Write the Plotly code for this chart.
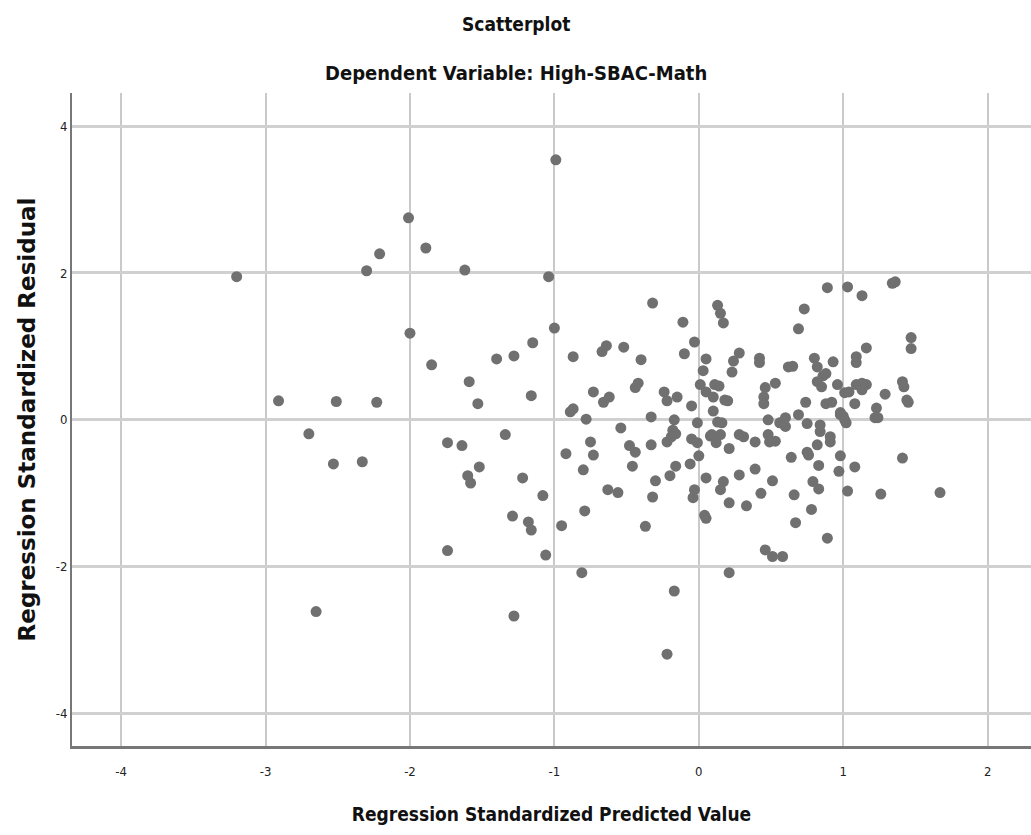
import plotly.graph_objects as go

predicted = [
    -3.20, -2.30, -2.21, -2.91, -2.51, -2.23, -2.70, -2.53, -2.33, -2.65,
    -2.01, -1.89, -1.62, -1.04, -2.00, -1.85, -1.40, -1.28, -1.15, -1.00,
    -1.59, -1.53, -1.16, -1.74, -1.64, -1.34, -1.52, -1.60, -1.58, -1.22,
    -1.08, -1.29, -1.18, -1.16, -0.95, -1.74, -1.06, -1.28, -0.99,
    -0.32, -0.11, -0.03, -0.10, -0.87, -0.67, -0.64, -0.52, -0.40, -0.44,
    -0.42, -0.73, -0.66, -0.62, -0.89, -0.87, -0.78, -0.54, -0.33, -0.24,
    -0.22, -0.15, -0.05, 0.05, 0.03, 0.01, 0.05, 0.11, 0.10, 0.10,
    0.13, 0.15, 0.17, -0.01, 0.08, 0.12, -0.75, -0.73, -0.92, -0.80,
    -0.48, -0.44, -0.46, -0.33, -0.22, -0.17, -0.18, -0.16, -0.19, -0.05,
    -0.01, 0.00, -0.06, -0.16, -0.20, 0.05, -0.30, 0.14, 0.18, 0.20,
    0.13, 0.16, 0.28, 0.24, 0.23, 0.42, 0.42, 0.46, 0.45, 0.45,
    0.53, 0.62, 0.65, 0.69, 0.48, 0.56, 0.60, 0.69, 0.09, 0.15,
    0.21, 0.28, 0.31, 0.39, 0.48, 0.49, 0.53, 0.60, 0.64, 0.66,
    0.67, -0.32, -0.04, -0.03, 0.17, 0.15, 0.28, 0.21, 0.33, 0.39,
    0.43, 0.51, 0.04, 0.05, -0.63, -0.56, -0.79, -0.37, -0.81, -0.17,
    0.21, 0.46, 0.51, 0.58, -0.22, 0.89, 1.03, 1.13, 1.34, 1.36,
    0.73, 1.47, 1.47, 0.80, 0.82, 0.93, 1.16, 1.09, 1.09, 0.86,
    0.88, 0.82, 0.85, 0.96, 1.01, 1.04, 1.09, 1.13, 1.16, 1.13,
    1.41, 1.42, 1.29, 1.45, 1.44, 0.74, 0.88, 0.92, 1.08, 0.98,
    1.00, 1.23, 1.22, 1.24, 0.75, 0.84, 1.02, 0.84, 0.98, 1.01,
    0.91, 0.91, 0.82, 0.75, 0.76, 0.83, 0.98, 0.97, 1.08, 1.41,
    0.79, 0.83, 1.03, 1.26, 1.67, 0.78, 0.89,
]

residual = [
    1.95, 2.03, 2.26, 0.26, 0.25, 0.24, -0.19, -0.60, -0.57, -2.61,
    2.75, 2.34, 2.04, 1.95, 1.18, 0.75, 0.83, 0.87, 1.05, 1.25,
    0.52, 0.22, 0.33, -0.31, -0.35, -0.20, -0.64, -0.76, -0.86, -0.79,
    -1.03, -1.31, -1.39, -1.50, -1.44, -1.78, -1.84, -2.67, 3.54,
    1.59, 1.33, 1.06, 0.90, 0.86, 0.93, 1.01, 0.99, 0.82, 0.44,
    0.50, 0.38, 0.24, 0.31, 0.11, 0.15, 0.01, -0.11, 0.04, 0.38,
    0.26, 0.31, 0.19, 0.83, 0.67, 0.48, 0.38, 0.48, 0.31, 0.12,
    1.56, 1.45, 1.32, -0.04, -0.22, -0.31, -0.30, -0.48, -0.46, -0.68,
    -0.35, -0.44, -0.63, -0.34, -0.30, 0.00, -0.14, -0.19, -0.23, -0.26,
    -0.31, -0.49, -0.60, -0.63, -0.76, -0.79, -0.83, 0.46, 0.27, 0.26,
    -0.03, -0.04, 0.91, 0.80, 0.65, 0.84, 0.78, 0.44, 0.31, 0.22,
    0.50, 0.72, 0.73, 1.24, 0.00, -0.04, 0.03, 0.07, -0.20, -0.20,
    -0.39, -0.20, -0.23, -0.30, -0.20, -0.30, -0.29, -0.09, -0.51, -1.02,
    -1.40, -1.05, -1.06, -0.95, -0.84, -0.95, -0.75, -1.13, -1.17, -0.67,
    -1.00, -0.83, -1.30, -1.34, -0.95, -0.99, -1.24, -1.45, -2.08, -2.33,
    -2.08, -1.77, -1.86, -1.86, -3.19, 1.80, 1.81, 1.69, 1.86, 1.88,
    1.51, 1.12, 0.97, 0.84, 0.72, 0.79, 0.98, 0.86, 0.78, 0.60,
    0.63, 0.52, 0.45, 0.48, 0.37, 0.38, 0.48, 0.50, 0.48, 0.41,
    0.52, 0.45, 0.35, 0.24, 0.27, 0.24, 0.22, 0.24, 0.22, 0.10,
    0.05, 0.16, 0.03, 0.03, -0.05, -0.07, -0.04, -0.16, 0.07, 0.00,
    -0.23, -0.30, -0.34, -0.44, -0.48, -0.62, -0.49, -0.70, -0.64, -0.52,
    -0.84, -0.94, -0.97, -1.01, -0.99, -1.22, -1.61,
]

x_ticks = [-4, -3, -2, -1, 0, 1, 2]
x_tick_labels = ["-4", "-3", "-2", "-1", "0", "1", "2"]
y_ticks = [-4, -2, 0, 2, 4]
y_tick_labels = ["-4", "-2", "0", "2", "4"]

narrow = "Liberation Sans Narrow, DejaVu Sans Condensed, Roboto Condensed, Arial Narrow, DejaVu Sans, sans-serif"

L, R, T, B = 72, 0, 93, 89
W, H = 1031, 835
pw, ph = W - L - R, H - T - B

fig = go.Figure()
fig.add_trace(go.Scatter(
    x=predicted, y=residual, mode="markers",
    marker=dict(size=11, color="#707070", line=dict(width=0)),
    hoverinfo="x+y", showlegend=False,
))

title_x = (W / 2 - L) / pw
fig.update_layout(
    width=W, height=H,
    margin=dict(l=L, r=R, t=T, b=B),
    paper_bgcolor="white", plot_bgcolor="white",
    font=dict(family=narrow, color="#222222"),
    annotations=[
        dict(text="<b>Scatterplot</b>", x=title_x, y=1 + (T - 24) / ph,
             xref="paper", yref="paper", xanchor="center", yanchor="middle",
             showarrow=False, font=dict(size=19, family=narrow, color="#111111")),
        dict(text="<b>Dependent Variable: High-SBAC-Math</b>", x=title_x, y=1 + (T - 73) / ph,
             xref="paper", yref="paper", xanchor="center", yanchor="middle",
             showarrow=False, font=dict(size=20, family=narrow, color="#111111")),
    ],
    xaxis=dict(
        range=[-4.34, 2.30], tickvals=x_ticks, ticktext=x_tick_labels,
        showgrid=True, gridcolor="#c9c9c9", gridwidth=1.5,
        zeroline=False, showline=True, linecolor="#777777", linewidth=2.5,
        ticks="", ticklabelstandoff=12,
        tickfont=dict(size=13, family=narrow, color="#222222"),
        title=dict(text="<b>Regression Standardized Predicted Value</b>",
                   font=dict(size=19, family=narrow, color="#111111"), standoff=30),
    ),
    yaxis=dict(
        range=[-4.44, 4.45], tickvals=y_ticks, ticktext=y_tick_labels,
        showgrid=True, gridcolor="#d0d0d0", gridwidth=3,
        zeroline=False, showline=True, linecolor="#777777", linewidth=2,
        ticks="", tickfont=dict(size=13, family=narrow, color="#222222"),
        title=dict(text="<b>Regression Standardized Residual</b>",
                   font=dict(size=23, family="DejaVu Sans, Verdana, sans-serif", color="#111111"),
                   standoff=14),
    ),
)

fig.write_html("out.html")
